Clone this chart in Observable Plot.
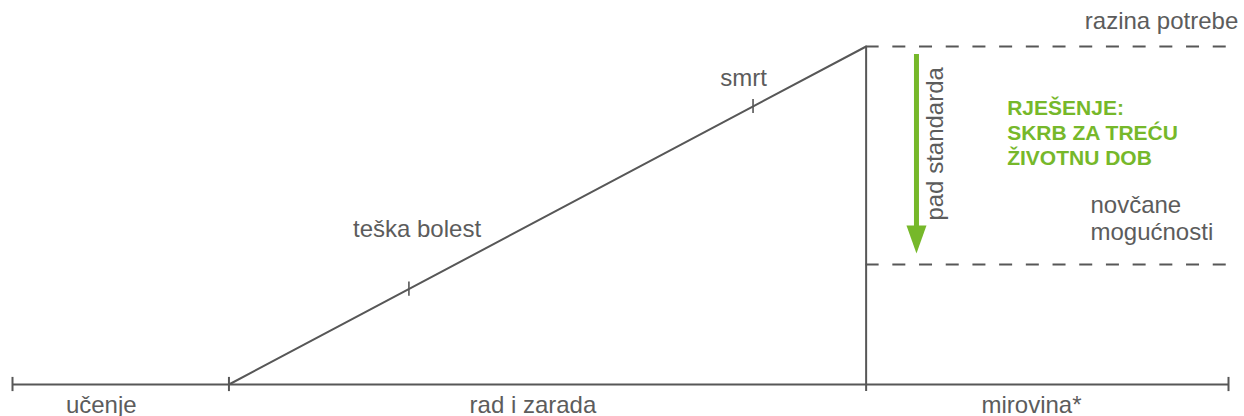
<!DOCTYPE html>
<html>
<head>
<meta charset="utf-8">
<script src="https://cdn.jsdelivr.net/npm/d3@7"></script>
<script src="https://cdn.jsdelivr.net/npm/@observablehq/plot@0.6"></script>
<style>
  html, body { margin: 0; padding: 0; background: #fff; }
  #chart svg { display: block; }
</style>
</head>
<body>
<div id="chart"></div>
<script>
// ---- data (abstract life-course units: x = life time 0..100, y = living standard 0..100) ----
const stages = ["učenje", "rad i zarada", "mirovina*"];
const stageBounds = [0, 17.8, 70.2, 100];
const stageLabelX = [7.3, 42.8, 83.8];
const stageLabelY = -6.3;

const needLevel = 100;
const meansLevel = 35.5;
const workStart = 17.8;
const retirement = 70.2;

const events = ["teška bolest", "smrt"];
const eventX = [32.6, 60.9];
const eventLabelX = [28.0, 58.2];
const eventLabelY = [45.8, 90.7];

const needLabel = "razina potrebe";
const needLabelPos = [100.8, 107.5];
const meansLabel = ["novčane", "mogućnosti"];
const meansLabelX = 88.65;
const meansLabelY = [52.9, 44.9];

const dropLabel = "pad standarda";
const dropLabelPos = [75.9, 71.2];
const arrowX = 74.34;
const arrowFrom = 97.6;
const arrowTo = 44.5;
const arrowHeadY = 42.9;

const solution = ["RJEŠENJE:", "SKRB ZA TREĆU", "ŽIVOTNU DOB"];
const solutionX = 81.8;
const solutionY = [81.6, 74.2, 66.8];

// ---- derived tables ----
const lineColor = "#575757";
const textColor = "#5c5c5c";
const green = "#76b82a";
const font = "'Liberation Sans', Arial, Helvetica, sans-serif";

const diag = [{x: workStart, y: 0}, {x: retirement, y: needLevel}];
const onDiag = x => (x - workStart) / (retirement - workStart) * needLevel;
const eventTicks = eventX.map(x => ({x, y: onDiag(x)}));
const tickHalf = 2.1;

const arrowHeadSymbol = {
  draw(context) {
    context.moveTo(-10, -14);
    context.lineTo(10, -14);
    context.lineTo(0, 14);
    context.closePath();
  }
};

const chart = Plot.plot({
  width: 1244,
  height: 416,
  marginTop: 0, marginRight: 0, marginBottom: 0, marginLeft: 0,
  x: {domain: [0, 100], range: [12, 1228], axis: null},
  y: {domain: [0, 100], range: [384, 46], axis: null},
  style: {fontFamily: font, background: "#fff"},
  marks: [
    // timeline
    Plot.ruleY([0], {x1: stageBounds[0], x2: stageBounds[3], stroke: lineColor, strokeWidth: 2}),
    Plot.ruleX([stageBounds[0], stageBounds[1], stageBounds[3]], {y1: -tickHalf, y2: tickHalf, stroke: lineColor, strokeWidth: 2}),
    Plot.ruleX([retirement], {y1: -tickHalf, y2: needLevel, stroke: lineColor, strokeWidth: 2}),
    // rising standard
    Plot.line(diag, {x: "x", y: "y", stroke: lineColor, strokeWidth: 2}),
    Plot.ruleX(eventTicks, {x: "x", y1: d => d.y - tickHalf, y2: d => d.y + tickHalf, stroke: lineColor, strokeWidth: 1.6}),
    // levels after retirement
    Plot.ruleY([needLevel, meansLevel], {x1: retirement, x2: 100, stroke: lineColor, strokeWidth: 2, strokeDasharray: "13,13.7"}),
    // green arrow
    Plot.ruleX([arrowX], {y1: arrowFrom, y2: arrowTo, stroke: green, strokeWidth: 5}),
    Plot.dot([{x: arrowX, y: arrowHeadY}], {x: "x", y: "y", symbol: arrowHeadSymbol, fill: green, stroke: "none", r: 10}),
    // labels
    Plot.text(stages, {x: (d, i) => stageLabelX[i], y: stageLabelY, text: d => d, fill: textColor, fontSize: 24, textAnchor: "middle"}),
    Plot.text(events, {x: (d, i) => eventLabelX[i], y: (d, i) => eventLabelY[i], text: d => d, fill: textColor, fontSize: 24, textAnchor: "start"}),
    Plot.text([needLabel], {x: needLabelPos[0], y: needLabelPos[1], text: d => d, fill: textColor, fontSize: 24, textAnchor: "end"}),
    Plot.text(meansLabel, {x: meansLabelX, y: (d, i) => meansLabelY[i], text: d => d, fill: textColor, fontSize: 24, textAnchor: "start"}),
    Plot.text([dropLabel], {x: dropLabelPos[0], y: dropLabelPos[1], text: d => d, fill: textColor, fontSize: 24, rotate: -90, textAnchor: "middle"}),
    Plot.text(solution, {x: solutionX, y: (d, i) => solutionY[i], text: d => d, fill: green, fontSize: 21, fontWeight: "bold", textAnchor: "start"})
  ]
});
document.getElementById("chart").appendChild(chart);
</script>
</body>
</html>
